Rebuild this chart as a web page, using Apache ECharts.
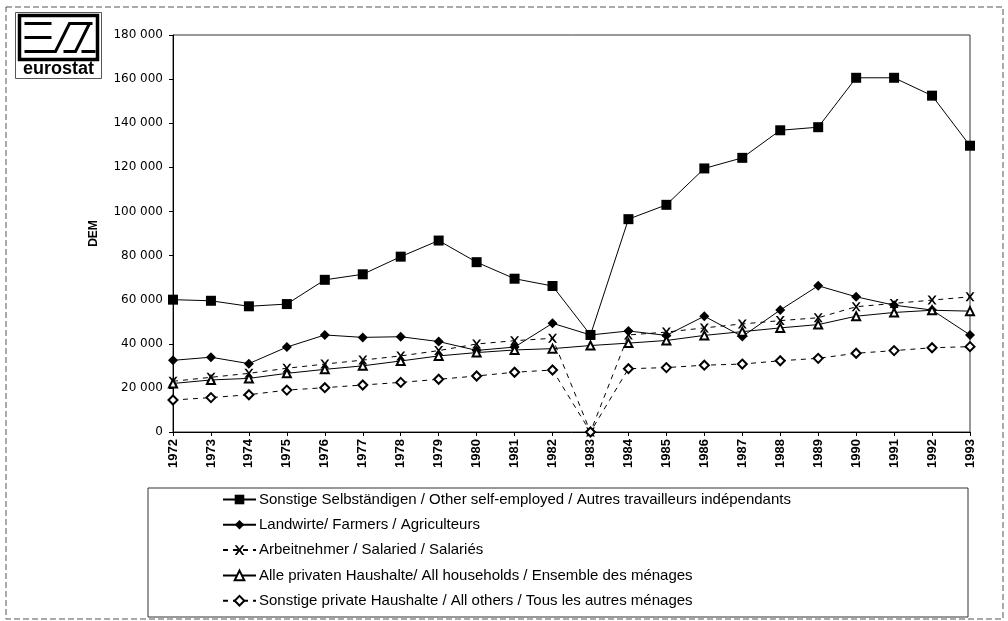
<!DOCTYPE html>
<html><head><meta charset="utf-8">
<script src="https://cdn.jsdelivr.net/npm/echarts@6/dist/echarts.min.js"></script>
<style>html,body{margin:0;padding:0;background:#fff}#c{width:1008px;height:621px}</style>
</head><body><div id="c"></div>
<script>
const years = ['1972','1973','1974','1975','1976','1977','1978','1979','1980','1981','1982','1983','1984','1985','1986','1987','1988','1989','1990','1991','1992','1993'];
const seriesNames = [
  'Sonstige Selbständigen / Other self-employed / Autres travailleurs indépendants',
  'Landwirte/ Farmers / Agriculteurs',
  'Arbeitnehmer / Salaried / Salariés',
  'Alle privaten Haushalte/ All households / Ensemble des ménages',
  'Sonstige private Haushalte / All others / Tous les autres ménages'
];
const selbst    = [60000,59500,57000,58000,69000,71500,79500,86800,77000,69500,66200,44000,96500,103000,119500,124300,136800,138200,160600,160600,152500,129800];
const landwirte = [32500,33900,31000,38500,44000,42900,43200,41000,37000,38500,49300,44000,45800,43800,52500,43300,55300,66300,61300,57500,55300,44000];
const salaried  = [23000,24800,26600,28900,30800,32600,34500,36900,39900,41400,42500,0,44000,45300,47200,49000,50500,51800,56800,58300,59800,61300];
const allhh     = [22000,23600,24300,26600,28400,30000,32200,34500,36000,37200,37800,39200,40300,41500,43800,45500,47200,48700,52500,54200,55200,54800];
const others    = [14500,15600,16900,19000,20100,21300,22500,23900,25400,27100,28100,0,28700,29200,30300,30800,32300,33400,35700,36900,38200,38700];
const yTicks = {min:0, max:180000, interval:20000};

const X_PATH = 'path://M0,0L2.2,0L5,3.6L7.8,0L10,0L6.2,5L10,10L7.8,10L5,6.4L2.2,10L0,10L3.8,5Z';

const chart = echarts.init(document.getElementById('c'), null, {renderer:'canvas'});
function fmt(v){ if(v===0) return '0'; return String(v/1000)+' 000'; }
function mk(name, data, symbol, size, dashed, filled){
  return {
    name, type:'line', data, symbol, symbolSize:size, showSymbol:true,
    lineStyle:{color:'#000', width:1, type: dashed ? [5,5] : 'solid'},
    itemStyle:{color:'#000', borderColor:'#000', borderWidth: filled ? 0 : 1.3},
    emphasis:{disabled:true}, animation:false, z: 3
  };
}
chart.setOption({
  animation:false,
  backgroundColor:'#fff',
  textStyle:{fontFamily:'Liberation Sans, Arial, sans-serif', color:'#000'},
  grid:{left:173, right:38, top:35, bottom:189, show:true, borderColor:'#333', borderWidth:1},
  xAxis:{
    type:'category', data:years, boundaryGap:false,
    axisLine:{lineStyle:{color:'#000', width:1}},
    axisTick:{show:true, length:4, alignWithLabel:true, lineStyle:{color:'#000'}},
    axisLabel:{rotate:90, color:'#000', fontSize:13, fontWeight:'bold', margin:7, fontFamily:'Liberation Sans, Arial, sans-serif'},
    splitLine:{show:false}
  },
  yAxis:{
    type:'value', min:yTicks.min, max:yTicks.max, interval:yTicks.interval,
    name:'DEM', nameLocation:'middle', nameGap:73, nameRotate:90,
    nameTextStyle:{fontWeight:'bold', fontSize:12, color:'#000'},
    axisLine:{show:true, lineStyle:{color:'#000', width:1}},
    axisTick:{show:true, length:4, lineStyle:{color:'#000'}},
    axisLabel:{formatter:fmt, color:'#000', fontSize:12, margin:10, fontFamily:'DejaVu Sans, sans-serif'},
    splitLine:{show:false}
  },
  legend:{
    orient:'vertical', left:222, top:492, padding:0, itemWidth:33, itemHeight:12, itemGap:10.3,
    textStyle:{fontSize:15, color:'#000', padding:[0,0,0,-2]},
    data: seriesNames
  },
  series:[
    mk(seriesNames[0], selbst, 'rect', 10, false, true),
    mk(seriesNames[1], landwirte, 'diamond', 10, false, true),
    mk(seriesNames[2], salaried, X_PATH, 9, true, true),
    mk(seriesNames[3], allhh, 'emptyTriangle', 8, false, false),
    mk(seriesNames[4], others, 'emptyDiamond', 9, true, false)
  ],
  graphic:[
    {type:'rect', shape:{x:6, y:7, width:997, height:612}, style:{fill:null, stroke:'#555', lineWidth:1, lineDash:[6,3]}, silent:true, z:0},
    {type:'rect', shape:{x:148, y:488, width:820, height:129}, style:{fill:'#fff', stroke:'#333', lineWidth:1}, silent:true, z:-1},
    {type:'group', left:15, top:12, silent:true, children:[
      {type:'rect', shape:{x:0, y:0, width:86, height:66}, style:{fill:'#fff', stroke:'#555', lineWidth:1}},
      {type:'rect', shape:{x:4, y:3, width:78, height:44}, style:{fill:'#fff', stroke:'#000', lineWidth:3.5}},
      {type:'polyline', shape:{points:[[9,11],[36,11]]}, style:{stroke:'#000', lineWidth:3}},
      {type:'polyline', shape:{points:[[9,25],[36,25]]}, style:{stroke:'#000', lineWidth:3}},
      {type:'polyline', shape:{points:[[9,39],[40,39],[54,11],[77,11]]}, style:{stroke:'#000', lineWidth:3, fill:null}},
      {type:'polyline', shape:{points:[[48,39],[60,39],[74,11]]}, style:{stroke:'#000', lineWidth:3, fill:null}},
      {type:'polyline', shape:{points:[[66,39],[80,39]]}, style:{stroke:'#000', lineWidth:3}},
      {type:'text', style:{x:43, y:57, text:'eurostat', fill:'#000', font:'bold 18px Liberation Sans, Arial, sans-serif', textAlign:'center', textVerticalAlign:'middle'}}
    ]}
  ]
});
</script></body></html>
